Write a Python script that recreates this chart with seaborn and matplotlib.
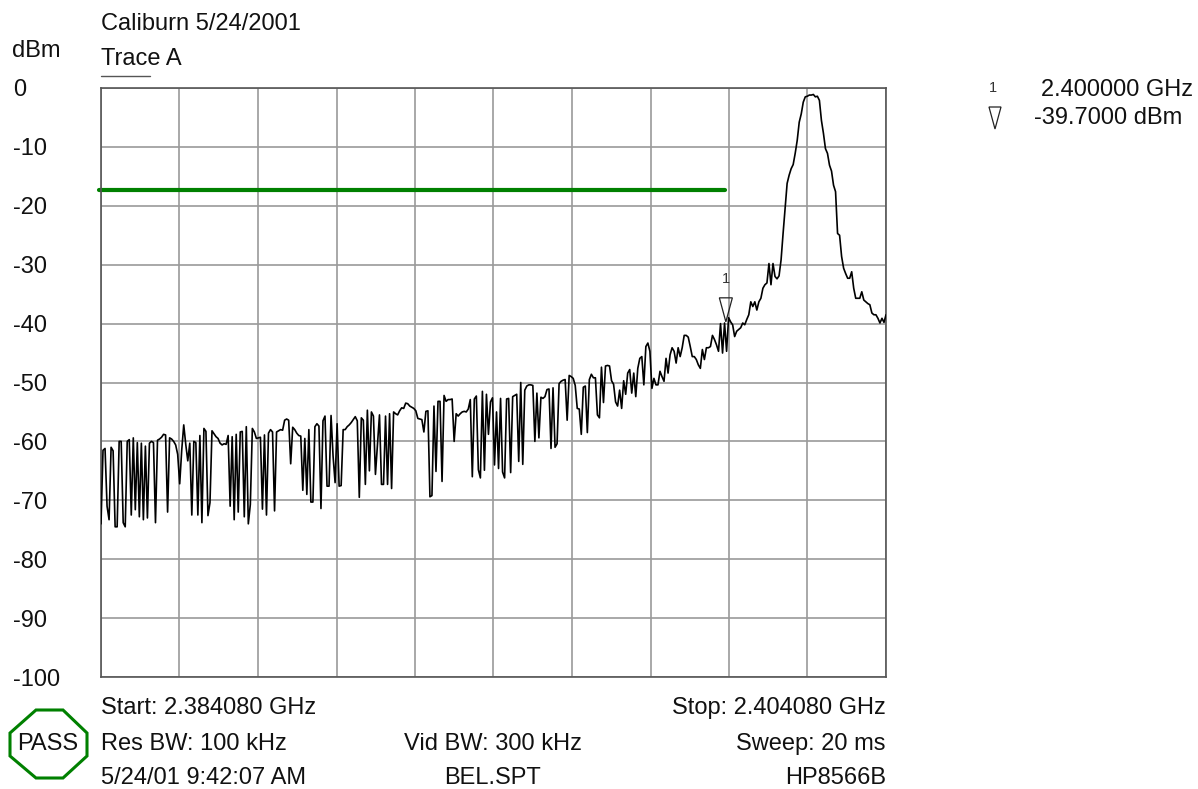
import numpy as np
import pandas as pd
import matplotlib
matplotlib.use("Agg")
import matplotlib.pyplot as plt
import seaborn as sns
from matplotlib.patches import Polygon
from matplotlib.transforms import IdentityTransform, ScaledTranslation

# Trace A readings in dBm, one list per horizontal division
trace_div1 = [-74, -61.5, -61.2, -71, -73.3, -61, -61.6, -74.5, -74.5, -60, -60, -73.8, -74.5,
              -60, -59.7, -72.5, -59.4, -71.6, -60.2, -72.8, -60.3, -73.3, -60.8, -73, -60.3,
              -60, -60.2, -73.8, -59.8, -59.6, -59.3, -58.8, -58.9, -72, -59.4, -59.6, -60,
              -60.6, -62.2]
trace_div2 = [-67.2, -61.5, -57.2, -60.5, -63.3, -60.3, -72.5, -60, -60.2, -72.5, -59, -73.8,
              -57.8, -58.3, -72.6, -70.4, -58.2, -58.7, -59.2, -59.5, -60.3, -60.6, -60.4,
              -60.5, -59, -71, -59.2, -73.3, -58.8, -72, -58.4, -58.3, -72.8, -57.5, -74,
              -70.7, -57.8, -58.4, -59.5]
trace_div3 = [-59.4, -59.3, -71.5, -58.9, -72.5, -58.6, -58, -58.4, -71.8, -58.4, -58.2, -58,
              -58.1, -56.4, -56.2, -56.4, -63.8, -57.6, -58, -58.6, -59, -59.1, -68.3, -59.5,
              -69, -58, -70.3, -70.3, -57.5, -57, -57.4, -71.4, -56.5, -55.7, -67.6, -67.6,
              -55.6, -62.5, -67]
trace_div4 = [-57, -67.6, -67.5, -58, -58, -57.5, -57.2, -56.8, -56.3, -55.8, -56.5, -69.5, -56,
              -56.4, -67.3, -54.7, -65, -55, -55.7, -65.6, -60.5, -55.5, -67.3, -67.3, -55.7,
              -67.3, -55.3, -68, -55, -55.3, -55.5, -54.8, -54.3, -54.4, -53.5, -53.6, -54,
              -54.2, -54.4]
trace_div5 = [-54.8, -56.1, -56.2, -56.3, -58.4, -54.9, -54.8, -69.4, -69.2, -54, -65.1, -53.2,
              -53.2, -66.8, -52.2, -53.2, -52.9, -52.9, -52.8, -60, -55.3, -55.7, -55.3, -55,
              -54.9, -55, -54.5, -52.9, -66, -52.8, -52.3, -64.8, -66.2, -51.5, -64.9, -52,
              -58.8, -53.3, -52.6]
trace_div6 = [-64, -55, -64.6, -52.7, -65.2, -66.2, -52.8, -52.7, -65.3, -52.4, -52.2, -52,
              -63.4, -50, -63.9, -51.3, -50.6, -50.4, -50.4, -50.5, -60, -51.8, -59.4, -52.5,
              -52.7, -52.4, -51.2, -51.1, -61.2, -50.9, -61, -60.4, -50.2, -49.8, -49.6, -49.5,
              -56.4, -48.8, -49]
trace_div7 = [-49.3, -50.5, -54.4, -54.5, -58.8, -50.8, -50.6, -58.5, -49.5, -48.6, -49.2, -49.2,
              -55.5, -56, -47.4, -53.4, -47.2, -47.1, -47.2, -49.7, -50.3, -53.3, -54, -51.3,
              -54.4, -49.7, -52, -48.4, -47.8, -51.8, -48.4, -52.4, -47.6, -45.9, -45.6, -50.4,
              -43.9, -43.3, -44.7]
trace_div8 = [-51, -49.3, -50.4, -50.4, -48.1, -49, -49.8, -45.9, -48.4, -45.3, -44.1, -44.7,
              -46.7, -44.1, -45.6, -44.1, -42, -42, -42.3, -43.9, -45.6, -45.6, -46.1, -47,
              -47.6, -44.4, -46.1, -44.1, -44.1, -43.9, -42, -42.7, -43.6, -44.7, -40, -45,
              -39.9, -44.7, -39]
trace_div9 = [-39.7, -40.2, -42.2, -41.3, -41, -40.7, -39.9, -40.2, -39.3, -38.5, -36.3, -37.1,
              -36.3, -37.7, -36.3, -35.7, -34, -33.4, -33.1, -29.8, -33.4, -29.8, -32, -32.4,
              -31.9, -29.2, -24.7, -20.5, -16.2, -14.8, -13.7, -13, -11.1, -8.9, -5.8, -4.4,
              -2.4, -1.5, -1.4]
trace_div10 = [-1.2, -1.2, -1.1, -1.5, -1.4, -2.1, -5.5, -7.7, -10.3, -11.1, -13.1, -14.1, -16.5,
               -17.6, -24.7, -25, -28.6, -30.6, -31.5, -32.3, -32.3, -31.2, -34, -35.7, -35.7,
               -35.7, -34.6, -36, -36.3, -36.6, -36.8, -38.2, -38.5, -38.5, -39.1, -39.9, -39.1,
               -39.8, -38.5]

start_ghz = 2.38408
stop_ghz = 2.40408
limit_dbm = -17.3
marker_ghz = 2.4
marker_dbm = -39.7
y_ticks = [0, -10, -20, -30, -40, -50, -60, -70, -80, -90, -100]

W, H = 1198, 789
FONT = "Liberation Sans"
SIZE = 17


def fx(x):
    return x / W


def fy(y):
    return 1 - y / H


sns.set_style("white")
plt.rcParams["font.family"] = [FONT, "DejaVu Sans"]
plt.rcParams["font.size"] = SIZE

dbm = np.concatenate([trace_div1, trace_div2, trace_div3, trace_div4, trace_div5,
                      trace_div6, trace_div7, trace_div8, trace_div9, trace_div10])
trace = pd.DataFrame({"ghz": np.linspace(start_ghz, stop_ghz, len(dbm)), "dbm": dbm})

fig = plt.figure(figsize=(W / 100, H / 100), dpi=100)
ax = fig.add_axes([fx(101), fy(677), (886 - 101) / W, (677 - 88) / H])

sns.lineplot(data=trace, x="ghz", y="dbm", color="black", linewidth=1.2, estimator=None,
             sort=False, ax=ax, zorder=3)

ax.set_xlim(start_ghz, stop_ghz)
ax.set_ylim(-100, 0)
ax.set_xticks(np.linspace(start_ghz, stop_ghz, 11))
ax.set_xticklabels([])
ax.set_yticks(y_ticks)
ax.set_yticklabels([str(v) for v in y_ticks], ha="left", color="#111111")
ax.tick_params(axis="y", length=0, pad=63.4, labelsize=SIZE)
ax.tick_params(axis="x", length=0)
ax.set_xlabel("")
ax.set_ylabel("")
ax.grid(True, color="#9a9a9a", linewidth=1.2)
ax.set_axisbelow(True)
for s in ax.spines.values():
    s.set_color("#555555")
    s.set_linewidth(1.2)
    s.set_visible(True)

# the zero label sits a little to the right of the others
zero_label = ax.get_yticklabels()[0]
zero_label.set_transform(zero_label.get_transform() + ScaledTranslation(5 / 100, 0, IdentityTransform()))

# limit line, runs a little past the left edge
ax.plot([start_ghz - 0.00005, marker_ghz - 0.00003], [limit_dbm, limit_dbm], color="#008000",
        linewidth=3.0, solid_capstyle="round", clip_on=False, zorder=2)

# marker triangle with its tip on the trace
tip = ax.transData.transform((marker_ghz, marker_dbm))
tri = Polygon([tip + (-6.5, 24), tip + (6.5, 24), tip], closed=True, fill=False, edgecolor="#222222",
              linewidth=0.9, transform=IdentityTransform(), clip_on=False, zorder=4)
ax.add_patch(tri)
fig.text(fx(725.5), fy(279), "1", fontsize=10.5, color="#333333", ha="center", va="center")


def label(x, y, s, ha="left", **kw):
    fig.text(fx(x), fy(y), s, ha=ha, va="center", color="#111111", **kw)


label(101, 24, "Caliburn 5/24/2001")
label(101, 59, "Trace A")
label(12, 51, "dBm")
label(101, 708, "Start: 2.384080 GHz")
label(101, 744, "Res BW: 100 kHz")
label(101, 778, "5/24/01 9:42:07 AM")
label(493, 744, "Vid BW: 300 kHz", ha="center")
label(493, 778, "BEL.SPT", ha="center")
label(886, 708, "Stop: 2.404080 GHz", ha="right")
label(886, 744, "Sweep: 20 ms", ha="right")
label(886, 778, "HP8566B", ha="right")
label(1041, 90, "2.400000 GHz")
label(1034, 118, "-39.7000 dBm")
label(48, 744, "PASS", ha="center")
fig.text(fx(993), fy(88), "1", fontsize=10.5, color="#333333", ha="center", va="center")

# underline below Trace A
fig.add_artist(plt.Line2D([fx(101), fx(150)], [fy(75.5), fy(75.5)], color="#555555", linewidth=1.0))

# marker key triangle
fig.add_artist(Polygon([(fx(989), fy(107)), (fx(1001), fy(107)), (fx(995), fy(129))], closed=True,
                       fill=False, edgecolor="#222222", linewidth=0.9, transform=fig.transFigure))

# PASS octagon
octagon = [(36, 710), (63, 710), (87, 733), (87, 756), (63, 778), (36, 778), (10, 756), (10, 733)]
fig.add_artist(Polygon([(fx(x), fy(y)) for x, y in octagon], closed=True, fill=False,
                       edgecolor="#008000", linewidth=2.2, transform=fig.transFigure))

fig.savefig("out.png", dpi=100, facecolor="white")
